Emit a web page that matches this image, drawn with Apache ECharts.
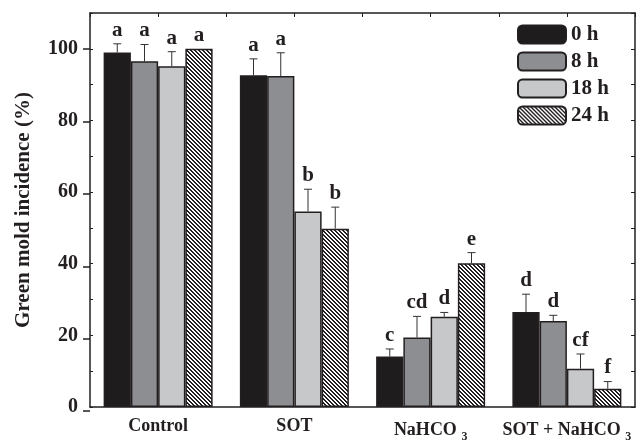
<!DOCTYPE html>
<html>
<head>
<meta charset="utf-8">
<script src="https://cdn.jsdelivr.net/npm/echarts@6/dist/echarts.min.js"></script>
<style>
  html, body { margin: 0; padding: 0; background: #fff; }
  #chart { width: 642px; height: 443px; }
</style>
</head>
<body>
<div id="chart"></div>
<script>
// treatments and sampling times
var categories = ["Control", "SOT", "NaHCO3", "SOT + NaHCO3"];
var hours = ["0 h", "8 h", "18 h", "24 h"];

// incidence (%) per time point
var inc_0h = [99.0, 92.6, 14.1, 26.5];
var inc_8h = [96.5, 92.4, 19.4, 24.0];
var inc_18h = [95.1, 54.6, 25.2, 10.7];
var inc_24h = [100, 49.8, 40.1, 5.1];

// upper error (SD)
var err_0h = [2.4, 4.6, 2.1, 5.0];
var err_8h = [4.7, 6.5, 5.9, 1.6];
var err_18h = [4.1, 6.2, 1.2, 4.1];
var err_24h = [0, 6.0, 3.0, 2.0];

// significance letters
var let_0h = ["a", "a", "c", "d"];
var let_8h = ["a", "a", "cd", "d"];
var let_18h = ["a", "b", "d", "cf"];
var let_24h = ["a", "b", "e", "f"];

var yTicks = [0, 20, 40, 60, 80, 100];

var FONT = "'Liberation Serif', 'Times New Roman', serif";
var INK = "#231f20";

// hatch for the 24 h bars
function hatch() {
  var c = document.createElement("canvas");
  c.width = 4;
  c.height = 4;
  var ctx = c.getContext("2d");
  ctx.fillStyle = "#ffffff";
  ctx.fillRect(0, 0, 4, 4);
  ctx.fillStyle = INK;
  for (var i = 0; i < 4; i++) {
    ctx.fillRect(i, i, 1, 1);
    ctx.fillRect((i + 1) % 4, i, 1, 1);
  }
  return { image: c, repeat: "repeat" };
}

var values = [inc_0h, inc_8h, inc_18h, inc_24h];
var errors = [err_0h, err_8h, err_18h, err_24h];
var letters = [let_0h, let_8h, let_18h, let_24h];
var fills = ["#1e1c1d", "#8d8e91", "#c7c8ca", hatch()];

var series = [];
hours.forEach(function (h, k) {
  series.push({
    name: h,
    type: "bar",
    barGap: 0,
    barCategoryGap: "20%",
    itemStyle: { color: fills[k], borderColor: INK, borderWidth: 1.5 },
    data: values[k]
  });
});
hours.forEach(function (h, k) {
  series.push({
    name: h + " err",
    type: "custom",
    z: 5,
    data: values[k].map(function (v, i) {
      return [i, v, errors[k][i], letters[k][i]];
    }),
    renderItem: function (params, api) {
      var idx = api.value(0);
      var v = api.value(1);
      var e = api.value(2);
      var band = api.size([1, 0])[0];
      var cx = api.coord([idx, 0])[0] + (k - 1.5) * band * 0.2;
      var yb = api.coord([idx, v])[1];
      var yt = api.coord([idx, v + e])[1];
      var kids = [];
      if (e > 0) {
        kids.push({ type: "line", shape: { x1: cx, y1: yb, x2: cx, y2: yt }, style: { stroke: "#333", lineWidth: 1 } });
        kids.push({ type: "line", shape: { x1: cx - 4, y1: yt, x2: cx + 4, y2: yt }, style: { stroke: "#333", lineWidth: 1 } });
      }
      kids.push({
        type: "text",
        style: {
          x: cx, y: yt - 3, text: letters[k][idx],
          align: "center", verticalAlign: "bottom",
          font: "bold 21px " + FONT, fill: INK
        }
      });
      return { type: "group", children: kids };
    }
  });
});

var chart = echarts.init(document.getElementById("chart"));
chart.setOption({
  animation: false,
  backgroundColor: "#ffffff",
  textStyle: { fontFamily: FONT, color: INK },
  legend: {
    data: hours,
    orient: "vertical",
    left: 517,
    top: 24,
    padding: 0,
    itemWidth: 48,
    itemHeight: 18,
    itemGap: 6,
    textStyle: { fontSize: 21, fontWeight: "bold", fontFamily: FONT, color: INK }
  },
  grid: [
    { left: 90, right: 7, top: 13, bottom: 32 },
    { left: 90, right: 7, top: 49.2, bottom: 32 }
  ],
  xAxis: [
    {
      type: "category",
      data: categories,
      gridIndex: 0,
      position: "bottom",
      axisLine: { onZero: false, lineStyle: { color: INK, width: 1.5 } },
      axisTick: { alignWithLabel: true, length: 9, lineStyle: { color: INK, width: 1.5 } },
      axisLabel: {
        interval: 0,
        hideOverlap: false,
        margin: 10,
        fontSize: 18,
        fontWeight: "bold",
        color: INK,
        fontFamily: FONT,
        formatter: function (v) { return v.replace(/O3$/, "O {s|3}"); },
        rich: { s: { fontSize: 12, fontWeight: "bold", fontFamily: FONT, color: INK, padding: [14, 0, 0, 0] } }
      }
    },
    {
      type: "value",
      gridIndex: 0,
      position: "top",
      min: 0, max: 8, interval: 1,
      axisLine: { show: true, onZero: false, lineStyle: { color: INK, width: 1.5 } },
      axisTick: { show: true, inside: true, length: 4, lineStyle: { color: INK } },
      axisLabel: { show: false },
      splitLine: { show: false }
    },
    { type: "value", gridIndex: 1, show: false, min: 0, max: 1 }
  ],
  yAxis: [
    {
      type: "value",
      gridIndex: 0,
      min: 0, max: 110, interval: 10,
      name: "Green mold incidence (%)",
      nameLocation: "middle",
      nameGap: 56,
      nameTextStyle: { fontSize: 21, fontWeight: "bold", fontFamily: FONT, color: INK },
      axisLine: { show: true, onZero: false, lineStyle: { color: INK, width: 1.5 } },
      axisTick: { show: true, inside: true, length: 3, lineStyle: { color: INK } },
      axisLabel: {
        margin: 12,
        fontSize: 20,
        fontWeight: "bold",
        color: INK,
        fontFamily: FONT,
        formatter: function (v) { return yTicks.indexOf(v) >= 0 ? String(v) : ""; }
      },
      splitLine: { show: false }
    },
    {
      type: "value",
      gridIndex: 1,
      min: 0, max: 100, interval: 20,
      axisLine: { show: false, onZero: false },
      axisTick: { show: true, length: 7, lineStyle: { color: INK, width: 1.5 } },
      axisLabel: { show: false },
      splitLine: { show: false }
    },
    {
      type: "value",
      gridIndex: 0,
      position: "right",
      min: 0, max: 110, interval: 10,
      axisLine: { show: true, onZero: false, lineStyle: { color: INK, width: 1.5 } },
      axisTick: { show: true, inside: true, length: 4, lineStyle: { color: INK } },
      axisLabel: { show: false },
      splitLine: { show: false }
    }
  ],
  series: series
});
</script>
</body>
</html>
